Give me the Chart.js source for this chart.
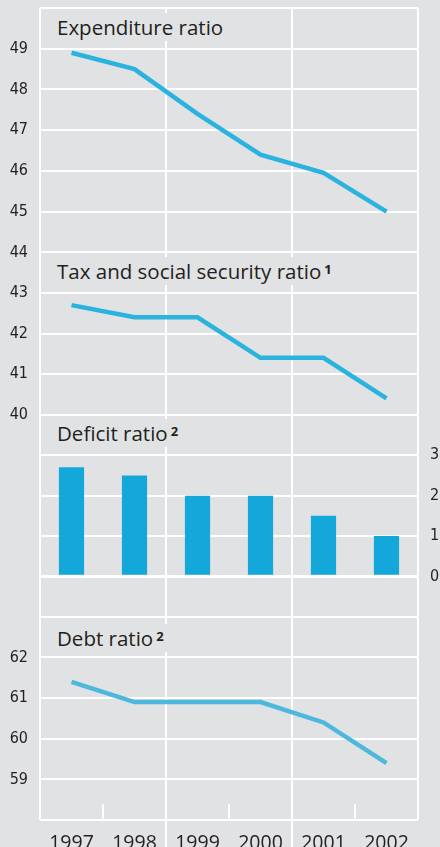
<!DOCTYPE html>
<html>
<head>
<meta charset="utf-8">
<script src="https://cdn.jsdelivr.net/npm/chart.js@4"></script>
<style>
  html, body { margin: 0; padding: 0; background: #e1e2e4; }
  #wrap { position: relative; width: 440px; height: 847px; overflow: hidden; }
  #wrap canvas { position: absolute; left: 0; }
  .title {
    position: absolute; left: 53px; padding: 0 4px; height: 28px;
    line-height: 28px; background: #e1e2e4; color: #231f20;
    font-family: 'Open Sans', sans-serif; font-size: 20.5px; white-space: nowrap;
  }
  .title .sup { font-size: 13px; font-weight: 700; line-height: 1; vertical-align: 5px; margin-left: 3px; }
</style>
</head>
<body>
<div id="wrap">
  <canvas id="expChart" width="440" height="232" style="top:0px"></canvas>
  <canvas id="taxChart" width="440" height="203" style="top:232px"></canvas>
  <canvas id="defChart" width="440" height="202" style="top:435px"></canvas>
  <canvas id="debtChart" width="440" height="210" style="top:637px"></canvas>
  <div class="title" style="top:13px">Expenditure ratio</div>
  <div class="title" style="top:257px">Tax and social security ratio<span class="sup">1</span></div>
  <div class="title" style="top:419px">Deficit ratio<span class="sup">2</span></div>
  <div class="title" style="top:624px">Debt ratio<span class="sup">2</span></div>
</div>
<script>
const years = ['1997', '1998', '1999', '2000', '2001', '2002']
const expenditureRatio = [48.9, 48.5, 47.4, 46.4, 45.95, 45.0]
const taxSocialRatio = [42.7, 42.4, 42.4, 41.4, 41.4, 40.4]
const deficitRatio = [2.7, 2.5, 2.0, 2.0, 1.5, 1.0]
const debtRatio = [61.4, 60.9, 60.9, 60.9, 60.4, 59.4]

// tick labels, and the grid lines drawn in each panel
const expenditureTicks = [45, 46, 47, 48, 49]
const expenditureGrid = [45, 46, 47, 48, 49, 50]
const taxTicks = [40, 41, 42, 43, 44]
const taxGrid = [40, 41, 42, 43, 44]
const deficitTicks = [0, 1, 2, 3]
const deficitGrid = [-1, 0, 1, 2, 3]
const debtTicks = [59, 60, 61, 62]
const debtGrid = [58, 59, 60, 61, 62]

const WHITE = '#ffffff'
const INK = '#231f20'
const CLEAR = 'rgba(0,0,0,0)'
// tiny lineHeight so the tick labels don't push the chart area in
const tickFont = {family: "'Liberation Sans Narrow', 'DejaVu Sans Condensed', sans-serif", size: 16, lineHeight: 0.01}

// short ticks at the bottom and the year separators
const axisMarks = {
  id: 'axisMarks',
  afterDraw(chart){
    const {ctx, chartArea: a, scales: {x}} = chart
    ctx.save()
    ctx.strokeStyle = WHITE
    ctx.lineWidth = 2
    for(let i = 1; i < years.length; i++){
      const xb = (x.getPixelForValue(i - 1) + x.getPixelForValue(i)) / 2
      ctx.beginPath()
      if(i % 2){ ctx.moveTo(xb, a.bottom - 16); ctx.lineTo(xb, a.bottom) }
      else { ctx.moveTo(xb, a.bottom); ctx.lineTo(xb, chart.height) }
      ctx.stroke()
    }
    ctx.restore()
  }
}

function panel(id, o){
  const left = o.side === 'left'
  const dataset = o.type === 'bar'
    ? {data: o.data, backgroundColor: o.color, barPercentage: 0.5, categoryPercentage: 0.8, borderWidth: 0}
    : {data: o.data, borderColor: o.color, borderWidth: 4.5, pointRadius: 0, tension: 0, fill: false}
  new Chart(document.getElementById(id), {
    type: o.type,
    data: {labels: years, datasets: [dataset]},
    plugins: o.xLabels ? [axisMarks] : [],
    options: {
      responsive: false,
      animation: false,
      layout: {padding: {top: o.padTop || 0, left: left ? 0 : 40, right: left ? 22 : 0, bottom: 0}},
      plugins: {legend: {display: false}, tooltip: {enabled: false}},
      scales: {
        x: {
          type: 'category',
          offset: true,
          border: {display: false},
          grid: {
            offset: true, drawTicks: false, lineWidth: 2,
            color: c => (c.index === undefined || c.index % 2 === 0) ? WHITE : CLEAR
          },
          ticks: {
            display: !!o.xLabels, padding: 12, color: INK, autoSkip: false, maxRotation: 0,
            font: {family: "'Open Sans', sans-serif", size: 19.5}
          },
          afterFit: s => { s.height = o.xLabels ? 27 : 0 }
        },
        y: {
          position: o.side,
          min: o.min,
          max: o.max,
          border: {display: false},
          afterBuildTicks: s => { s.ticks = o.grid.map(v => ({value: v})) },
          afterFit: s => { s.width = left ? 40 : 22 },
          grid: {
            drawTicks: true, tickLength: 12, tickColor: CLEAR,
            color: WHITE,
            lineWidth: c => (o.type === 'bar' && c.tick && c.tick.value === 0) ? 3 : 2
          },
          ticks: {
            padding: 0, color: INK, font: tickFont, autoSkip: false,
            callback: v => o.ticks.includes(v) ? String(v) : ''
          }
        }
      }
    }
  })
}

panel('expChart', {type: 'line', data: expenditureRatio, color: '#2ab3df', min: 44.5, max: 50, padTop: 8,
  grid: expenditureGrid, ticks: expenditureTicks, side: 'left'})
panel('taxChart', {type: 'line', data: taxSocialRatio, color: '#2ab3df', min: 39.5, max: 44.5,
  grid: taxGrid, ticks: taxTicks, side: 'left'})
panel('defChart', {type: 'bar', data: deficitRatio, color: '#13a8d9', min: -1.5, max: 3.5,
  grid: deficitGrid, ticks: deficitTicks, side: 'right'})
panel('debtChart', {type: 'line', data: debtRatio, color: '#4cb8de', min: 58, max: 62.5,
  grid: debtGrid, ticks: debtTicks, side: 'left', xLabels: true})
</script>
</body>
</html>
